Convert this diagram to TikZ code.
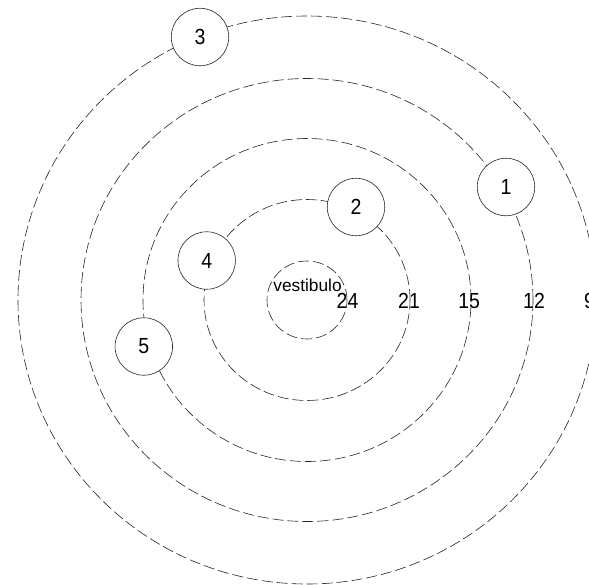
\documentclass[tikz,border=0pt]{standalone}
\usepackage{fontspec}
\setmainfont{Liberation Sans}
\newcommand\tallnum[1]{\scalebox{1}[1.12]{#1}}
\tikzset{
  ring/.style={draw=black!85, line width=0.6pt, dash pattern=on 11pt off 4pt},
  room/.style={circle, draw=black!85, line width=0.6pt, fill=white, minimum size=57.5pt, inner sep=0pt, font=\fontsize{19.5}{22}\selectfont},
  lvl/.style={anchor=base, inner sep=0pt, font=\fontsize{19.5}{22}\selectfont},
  vest/.style={anchor=base, inner sep=0pt, font=\fontsize{17.3}{20}\selectfont}
}
\begin{document}
\begin{tikzpicture}[x=1pt, y=-1pt]
\useasboundingbox (0,0) rectangle (589,584);
\fill[white] (0,0) rectangle (589,584);
\coordinate (c) at (307,300);
\draw[ring] (c) ellipse [x radius=40pt, y radius=39pt];
\draw[ring] (c) ellipse [x radius=103pt, y radius=100.5pt];
\draw[ring] (c) ellipse [x radius=164pt, y radius=161.5pt];
\draw[ring] (c) ellipse [x radius=226pt, y radius=221.5pt];
\draw[ring] (c) ellipse [x radius=289pt, y radius=284pt];
\node[room] (n3) at (200,37) {\tallnum{3}};
\node[room] (n1) at (506,187) {\tallnum{1}};
\node[room] (n2) at (356,207) {\tallnum{2}};
\node[room] (n4) at (206.7,260.5) {\tallnum{4}};
\node[room] (n5) at (143.8,346.5) {\tallnum{5}};
\node[vest] (vest) at (307.5,291.7) {vestibulo};
\node[lvl] (l24) at (347.5,308.3) {\tallnum{24}};
\node[lvl] (l21) at (409,308.3) {\tallnum{21}};
\node[lvl] (l15) at (469.2,308.3) {\tallnum{15}};
\node[lvl] (l12) at (534,308.3) {\tallnum{12}};
\node[lvl] (l9) at (589.5,308.3) {\tallnum{9}};
\end{tikzpicture}
\end{document}
